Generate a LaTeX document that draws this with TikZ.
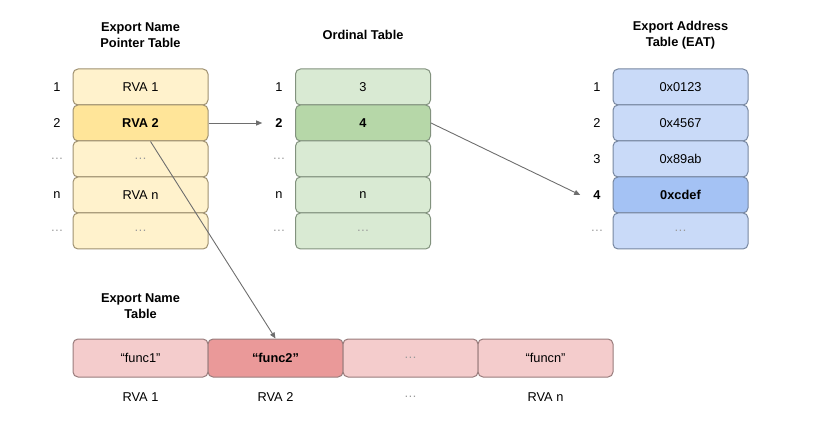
\documentclass[tikz,border=0pt]{standalone}
\usepackage{fontspec}
\setmainfont{Liberation Sans}
\usetikzlibrary{arrows.meta}
\definecolor{yfill}{HTML}{FFF2CC}
\definecolor{yhi}{HTML}{FFE599}
\definecolor{ydraw}{HTML}{9E9070}
\definecolor{gfill}{HTML}{D9EAD3}
\definecolor{ghi}{HTML}{B6D7A8}
\definecolor{gdraw}{HTML}{82927E}
\definecolor{bfill}{HTML}{C9DAF8}
\definecolor{bhi}{HTML}{A4C2F4}
\definecolor{bdraw}{HTML}{7787A0}
\definecolor{rfill}{HTML}{F4CCCC}
\definecolor{rhi}{HTML}{EA9999}
\definecolor{rdraw}{HTML}{987C7C}
\definecolor{arr}{HTML}{6E6E6E}
\definecolor{dotc}{HTML}{9A9A9A}
\tikzset{
  cell/.style={rectangle, rounded corners=5pt, minimum width=135pt, minimum height=36pt, inner sep=0pt, line width=1pt, font=\fontsize{12.8}{15}\selectfont},
  ycell/.style={cell, fill=yfill, draw=ydraw},
  gcell/.style={cell, fill=gfill, draw=gdraw},
  bcell/.style={cell, fill=bfill, draw=bdraw},
  rcell/.style={cell, fill=rfill, draw=rdraw, minimum height=38pt},
  idx/.style={inner sep=1pt, font=\fontsize{12.8}{15}\selectfont},
  bld/.style={font=\bfseries\fontsize{12.8}{15}\selectfont},
  ttl/.style={align=center, font=\bfseries\fontsize{12.8}{16}\selectfont},
  conn/.style={draw=arr, line width=0.9pt, -{Triangle[length=6pt,width=5pt]}},
}
\newcommand{\dts}{\textcolor{dotc}{\ldots}}
\begin{document}
\begin{tikzpicture}[x=1pt,y=-1pt]
\useasboundingbox (0,0) rectangle (816,446);
% titles
\node[ttl] (t1) at (140.5,35) {Export Name\\Pointer Table};
\node[ttl] (t2) at (363,35) {Ordinal Table};
\node[ttl] (t3) at (680.5,35) {Export Address\\Table (EAT)};
\node[ttl] (t4) at (140.5,306) {Export Name\\Table};
% pointer table
\node[ycell] (p1) at (140.5,87) {RVA 1};
\node[ycell, fill=yhi, bld] (p2) at (140.5,123) {RVA 2};
\node[ycell] (p3) at (140.5,159) {\dts};
\node[ycell] (p4) at (140.5,195) {RVA n};
\node[ycell] (p5) at (140.5,231) {\dts};
\node[idx] (pl1) at (57,87) {1};
\node[idx] (pl2) at (57,123) {2};
\node[idx] (pl3) at (57,159) {\dts};
\node[idx] (pl4) at (57,195) {n};
\node[idx] (pl5) at (57,231) {\dts};
% ordinal table
\node[gcell] (o1) at (363,87) {3};
\node[gcell, fill=ghi, bld] (o2) at (363,123) {4};
\node[gcell] (o3) at (363,159) {};
\node[gcell] (o4) at (363,195) {n};
\node[gcell] (o5) at (363,231) {\dts};
\node[idx] (ol1) at (279,87) {1};
\node[idx, bld] (ol2) at (279,123) {2};
\node[idx] (ol3) at (279,159) {\dts};
\node[idx] (ol4) at (279,195) {n};
\node[idx] (ol5) at (279,231) {\dts};
% EAT
\node[bcell] (e1) at (680.5,87) {0x0123};
\node[bcell] (e2) at (680.5,123) {0x4567};
\node[bcell] (e3) at (680.5,159) {0x89ab};
\node[bcell, fill=bhi, bld] (e4) at (680.5,195) {0xcdef};
\node[bcell] (e5) at (680.5,231) {\dts};
\node[idx] (el1) at (597,87) {1};
\node[idx] (el2) at (597,123) {2};
\node[idx] (el3) at (597,159) {3};
\node[idx, bld] (el4) at (597,195) {4};
\node[idx] (el5) at (597,231) {\dts};
% name table
\node[rcell] (n1) at (140.5,358) {“func1”};
\node[rcell, fill=rhi, bld] (n2) at (275.5,358) {“func2”};
\node[rcell] (n3) at (410.5,358) {\dts};
\node[rcell] (n4) at (545.5,358) {“funcn”};
\node[idx] (nl1) at (140.5,397) {RVA 1};
\node[idx] (nl2) at (275.5,397) {RVA 2};
\node[idx] (nl3) at (410.5,397) {\dts};
\node[idx] (nl4) at (545.5,397) {RVA n};
% connectors
\coordinate (a1) at ([xshift=-12pt]ol2.west);
\coordinate (a2) at ([xshift=-12pt]el4.west);
\draw[conn] (p2.east) -- (a1);
\draw[conn] (o2.east) -- (a2);
\draw[conn] ([xshift=10pt]p2.south) -- (n2.north);
\end{tikzpicture}
\end{document}
